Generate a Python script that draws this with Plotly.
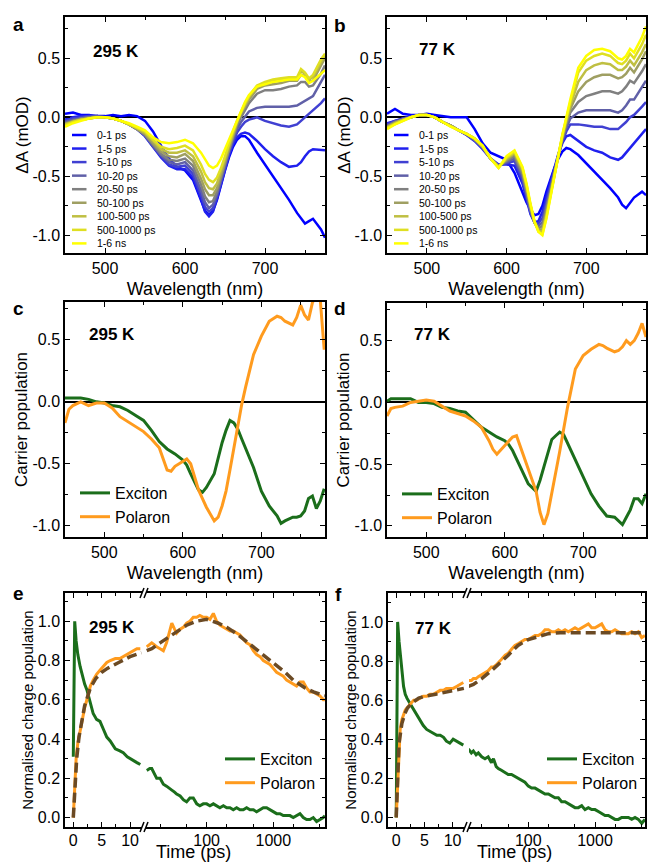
import math
import plotly.graph_objects as go

W, H = 648, 864
FONT = "Liberation Sans, Arial, Helvetica, sans-serif"

# ---------------- panels a & b : transient absorption spectra (mOD) ----------------
wavelength_ab = [450, 460, 470, 480, 490, 500, 510, 520, 530, 540, 550, 560, 570, 580, 590, 600, 610, 620, 625, 630,
                 635, 640, 645, 650, 655, 660, 665, 670, 675, 680, 690, 700, 710, 720, 730, 740, 745, 750, 755, 760,
                 770, 775]
delay_labels = ["0-1 ps", "1-5 ps", "5-10 ps", "10-20 ps", "20-50 ps", "50-100 ps", "100-500 ps", "500-1000 ps", "1-6 ns"]

a_0_1 = [0.03, 0.04, 0.02, 0.02, 0.01, 0.01, 0.02, 0.01, 0.02, 0.01,
         -0.03, -0.12, -0.24, -0.35, -0.42, -0.45, -0.53, -0.70, -0.79, -0.83,
         -0.79, -0.70, -0.57, -0.45, -0.34, -0.25, -0.19, -0.16, -0.16, -0.19,
         -0.30, -0.40, -0.50, -0.59, -0.70, -0.81, -0.86, -0.90, -0.88, -0.86, -0.95, -1.02]
a_1_5 = [-0.02, 0.00, 0.01, 0.01, 0.01, 0.00, -0.01, -0.03, -0.06, -0.10,
         -0.16, -0.25, -0.34, -0.41, -0.44, -0.44, -0.51, -0.69, -0.80, -0.84,
         -0.80, -0.69, -0.56, -0.43, -0.32, -0.23, -0.17, -0.14, -0.13, -0.14,
         -0.20, -0.27, -0.33, -0.38, -0.42, -0.41, -0.38, -0.33, -0.29, -0.27, -0.28, -0.28]
a_5_10 = [-0.03, -0.01, 0.00, 0.01, 0.01, 0.00, -0.01, -0.03, -0.06, -0.10,
          -0.16, -0.25, -0.33, -0.40, -0.42, -0.41, -0.48, -0.66, -0.76, -0.80,
          -0.77, -0.67, -0.55, -0.42, -0.31, -0.21, -0.13, -0.08, -0.04, -0.02,
          0.00, -0.03, -0.05, -0.07, -0.08, -0.06, -0.03, 0.00, 0.03, 0.06, 0.12, 0.16]
a_10_20 = [-0.04, -0.02, -0.01, 0.00, 0.01, 0.00, -0.01, -0.03, -0.06, -0.10,
           -0.15, -0.24, -0.32, -0.38, -0.40, -0.38, -0.45, -0.62, -0.72, -0.77,
           -0.74, -0.65, -0.53, -0.40, -0.29, -0.19, -0.10, -0.04, 0.01, 0.05,
           0.08, 0.09, 0.09, 0.09, 0.09, 0.10, 0.12, 0.14, 0.16, 0.18, 0.30, 0.36]
a_20_50 = [-0.05, -0.03, -0.01, 0.00, 0.00, 0.00, -0.01, -0.03, -0.06, -0.10,
           -0.15, -0.23, -0.31, -0.36, -0.37, -0.35, -0.41, -0.57, -0.67, -0.72,
           -0.71, -0.63, -0.52, -0.39, -0.27, -0.16, -0.07, 0.00, 0.06, 0.12,
           0.20, 0.23, 0.23, 0.24, 0.26, 0.27, 0.30, 0.30, 0.26, 0.27, 0.37, 0.44]
a_50_100 = [-0.06, -0.03, -0.02, -0.01, 0.00, 0.00, -0.01, -0.03, -0.06, -0.10,
            -0.14, -0.22, -0.29, -0.33, -0.34, -0.31, -0.37, -0.52, -0.61, -0.66,
            -0.66, -0.60, -0.49, -0.37, -0.25, -0.14, -0.05, 0.03, 0.09, 0.15,
            0.24, 0.27, 0.28, 0.29, 0.31, 0.31, 0.36, 0.35, 0.30, 0.31, 0.44, 0.50]
a_100_500 = [-0.06, -0.04, -0.02, -0.01, 0.00, 0.00, -0.01, -0.03, -0.06, -0.09,
             -0.13, -0.20, -0.27, -0.30, -0.30, -0.28, -0.33, -0.46, -0.55, -0.60,
             -0.61, -0.56, -0.46, -0.35, -0.24, -0.13, -0.04, 0.04, 0.11, 0.17,
             0.26, 0.29, 0.31, 0.32, 0.33, 0.33, 0.39, 0.37, 0.32, 0.34, 0.47, 0.53]
a_500_1000 = [-0.07, -0.04, -0.02, -0.01, 0.00, 0.00, -0.01, -0.03, -0.06, -0.09,
              -0.12, -0.19, -0.25, -0.27, -0.26, -0.24, -0.28, -0.40, -0.48, -0.53,
              -0.55, -0.51, -0.43, -0.33, -0.22, -0.12, -0.03, 0.05, 0.12, 0.18,
              0.27, 0.30, 0.32, 0.33, 0.34, 0.34, 0.41, 0.38, 0.33, 0.36, 0.49, 0.54]
a_1_6ns = [-0.08, -0.05, -0.03, -0.01, 0.00, 0.00, -0.01, -0.03, -0.05, -0.08,
           -0.11, -0.17, -0.21, -0.22, -0.21, -0.19, -0.22, -0.30, -0.36, -0.41,
           -0.43, -0.41, -0.35, -0.27, -0.19, -0.10, -0.02, 0.06, 0.13, 0.19,
           0.26, 0.28, 0.30, 0.31, 0.32, 0.32, 0.36, 0.34, 0.29, 0.31, 0.37, 0.40]

b_0_1 = [0.03, 0.07, 0.03, 0.02, 0.02, 0.03, 0.02, 0.01, 0.00, 0.00,
         0.00, -0.10, -0.22, -0.30, -0.33, -0.36, -0.47, -0.64, -0.72, -0.78,
         -0.83, -0.82, -0.75, -0.63, -0.53, -0.43, -0.35, -0.29, -0.26, -0.27,
         -0.32, -0.39, -0.46, -0.53, -0.60, -0.68, -0.74, -0.77, -0.72, -0.68, -0.63, -0.66]
b_1_5 = [-0.05, -0.03, -0.01, 0.01, 0.02, 0.02, 0.00, -0.04, -0.07, -0.11,
         -0.15, -0.20, -0.27, -0.35, -0.40, -0.40, -0.41, -0.56, -0.70, -0.82,
         -0.89, -0.88, -0.80, -0.68, -0.55, -0.42, -0.31, -0.22, -0.16, -0.15,
         -0.20, -0.25, -0.28, -0.30, -0.34, -0.36, -0.34, -0.30, -0.26, -0.22, -0.14, -0.10]
b_5_10 = [-0.06, -0.03, -0.01, 0.00, 0.02, 0.02, 0.00, -0.04, -0.07, -0.11,
          -0.15, -0.20, -0.26, -0.35, -0.41, -0.39, -0.37, -0.53, -0.67, -0.81,
          -0.89, -0.90, -0.85, -0.72, -0.58, -0.44, -0.32, -0.21, -0.12, -0.06,
          -0.06, -0.07, -0.08, -0.08, -0.10, -0.10, -0.07, -0.04, 0.00, 0.02, 0.09, 0.13]
b_10_20 = [-0.07, -0.04, -0.02, 0.00, 0.02, 0.02, 0.00, -0.04, -0.07, -0.11,
           -0.15, -0.19, -0.26, -0.35, -0.41, -0.38, -0.35, -0.50, -0.64, -0.79,
           -0.89, -0.92, -0.89, -0.76, -0.61, -0.46, -0.32, -0.19, -0.09, -0.01,
           0.04, 0.06, 0.06, 0.06, 0.06, 0.04, 0.06, 0.10, 0.15, 0.15, 0.25, 0.31]
b_20_50 = [-0.08, -0.04, -0.02, 0.00, 0.02, 0.02, 0.00, -0.04, -0.07, -0.11,
           -0.14, -0.19, -0.25, -0.35, -0.41, -0.37, -0.33, -0.48, -0.62, -0.78,
           -0.89, -0.94, -0.92, -0.78, -0.63, -0.47, -0.32, -0.18, -0.06, 0.04,
           0.13, 0.18, 0.20, 0.22, 0.22, 0.20, 0.22, 0.26, 0.31, 0.29, 0.39, 0.45]
b_50_100 = [-0.08, -0.05, -0.02, 0.00, 0.02, 0.02, 0.00, -0.04, -0.07, -0.11,
            -0.14, -0.18, -0.25, -0.35, -0.42, -0.36, -0.31, -0.46, -0.60, -0.76,
            -0.89, -0.95, -0.95, -0.81, -0.65, -0.48, -0.32, -0.17, -0.04, 0.07,
            0.22, 0.30, 0.34, 0.36, 0.36, 0.33, 0.34, 0.37, 0.42, 0.38, 0.49, 0.56]
b_100_500 = [-0.09, -0.05, -0.02, 0.00, 0.02, 0.02, 0.00, -0.04, -0.07, -0.11,
             -0.14, -0.18, -0.25, -0.35, -0.42, -0.35, -0.30, -0.44, -0.58, -0.75,
             -0.89, -0.96, -0.97, -0.83, -0.66, -0.49, -0.32, -0.16, -0.02, 0.10,
             0.30, 0.40, 0.44, 0.46, 0.45, 0.40, 0.40, 0.43, 0.48, 0.44, 0.55, 0.62]
b_500_1000 = [-0.09, -0.06, -0.03, 0.00, 0.02, 0.02, 0.00, -0.04, -0.08, -0.11,
              -0.14, -0.18, -0.24, -0.35, -0.43, -0.34, -0.29, -0.43, -0.57, -0.74,
              -0.88, -0.97, -0.99, -0.85, -0.67, -0.49, -0.32, -0.15, -0.01, 0.13,
              0.38, 0.48, 0.52, 0.54, 0.52, 0.46, 0.45, 0.48, 0.54, 0.50, 0.62, 0.70]
b_1_6ns = [-0.10, -0.06, -0.03, 0.00, 0.02, 0.02, 0.00, -0.04, -0.08, -0.11,
           -0.14, -0.18, -0.24, -0.35, -0.43, -0.33, -0.28, -0.42, -0.56, -0.73,
           -0.88, -0.97, -1.00, -0.86, -0.68, -0.50, -0.32, -0.15, 0.00, 0.15,
           0.42, 0.52, 0.57, 0.58, 0.56, 0.50, 0.49, 0.52, 0.58, 0.55, 0.68, 0.77]

# ---------------- panels c & d : carrier population spectra ----------------
wavelength_cd = [450, 455, 460, 470, 480, 490, 500, 510, 520, 530, 540, 550, 560, 570, 580, 585, 590, 600, 605, 610,
                 615, 620, 625, 630, 640, 645, 650, 655, 660, 665, 670, 675, 680, 690, 700, 710, 720, 725, 730, 740,
                 745, 750, 755, 760, 765, 770, 775, 780]
c_exciton = [0.03, 0.03, 0.03, 0.03, 0.02, 0.00, -0.01, -0.03, -0.04, -0.07, -0.11, -0.15,
             -0.23, -0.32, -0.38, -0.40, -0.42,
             -0.47, -0.51, -0.58, -0.65, -0.71, -0.73, -0.69,
             -0.58, -0.45, -0.33, -0.23, -0.15, -0.17, -0.22, -0.30, -0.38,
             -0.53, -0.72, -0.84, -0.92, -0.98, -0.96,
             -0.93, -0.93, -0.92, -0.88, -0.78, -0.76, -0.86, -0.80, -0.70]
c_polaron = [-0.17, -0.06, -0.03, 0.00, -0.03, -0.01, -0.01, -0.05, -0.12, -0.16, -0.20, -0.24,
             -0.30, -0.37, -0.55, -0.56, -0.52,
             -0.48, -0.46, -0.50, -0.60, -0.71, -0.78, -0.85,
             -0.96, -0.93, -0.84, -0.72, -0.55, -0.37, -0.18, -0.02, 0.12,
             0.38, 0.53, 0.65, 0.69, 0.68, 0.65,
             0.62, 0.68, 0.78, 0.70, 0.66, 0.80, 0.86, 0.82, 0.42]
d_exciton = [0.01, 0.03, 0.03, 0.03, 0.03, 0.00, 0.00, -0.01, -0.04, -0.05, -0.07, -0.08,
             -0.14, -0.20, -0.24, -0.26, -0.28,
             -0.31, -0.34, -0.39, -0.46, -0.53, -0.60, -0.66,
             -0.72, -0.63, -0.52, -0.40, -0.30, -0.27, -0.24, -0.26, -0.33,
             -0.47, -0.61, -0.74, -0.84, -0.88, -0.92,
             -0.93, -0.96, -0.99, -0.93, -0.87, -0.78, -0.78, -0.82, -0.74]
d_polaron = [-0.11, -0.05, -0.04, -0.03, 0.00, 0.01, 0.02, 0.01, -0.03, -0.07, -0.09, -0.11,
             -0.15, -0.20, -0.31, -0.38, -0.42,
             -0.35, -0.31, -0.28, -0.27, -0.36, -0.46, -0.55,
             -0.72, -0.89, -0.99, -0.90, -0.74, -0.58, -0.40, -0.22, -0.04,
             0.27, 0.38, 0.43, 0.47, 0.46, 0.44,
             0.41, 0.42, 0.45, 0.50, 0.47, 0.50, 0.56, 0.64, 0.53]

# ---------------- panels e & f : normalised kinetics (broken time axis) ----------------
e_t_lin = [0.0, 0.25, 0.5, 0.8, 1.2, 1.5, 2.0, 2.4, 3.0, 3.5, 4.1, 4.7, 5.3, 5.9, 6.5, 7.4, 8.2, 8.8, 9.5, 10.0,
           10.6, 11.2, 11.8]
e_exciton_lin = [0.31, 1.00, 0.90, 0.83, 0.77, 0.73, 0.68, 0.65, 0.58, 0.53, 0.50, 0.49, 0.45, 0.41, 0.39, 0.35,
                 0.34, 0.33, 0.31, 0.30, 0.29, 0.28, 0.27]
e_polaron_lin = [0.00, 0.12, 0.30, 0.38, 0.44, 0.50, 0.56, 0.60, 0.67, 0.70, 0.73, 0.75, 0.77, 0.79, 0.80, 0.81,
                 0.81, 0.82, 0.83, 0.84, 0.85, 0.86, 0.86]
e_fit_t_lin = [0.0, 0.3, 0.6, 1.0, 1.5, 2.0, 3.0, 4.0, 5.0, 6.0, 8.0, 10.0, 12.0]
e_fit_lin = [0.00, 0.15, 0.30, 0.41, 0.50, 0.57, 0.66, 0.71, 0.74, 0.76, 0.79, 0.82, 0.84]

t_log = [12.6, 14, 15, 16.5, 17.8, 20, 22.4, 25, 28, 30, 33, 35.5, 40, 45, 50, 56, 63, 71, 79, 89,
         100, 112, 126, 141, 158, 178, 200, 224, 251, 282, 316, 355, 398, 447, 501, 562, 631, 708, 794, 891,
         1000, 1122, 1259, 1413, 1585, 1778, 1995, 2239, 2512, 2818, 3162, 3548, 3981, 4467, 5012]
e_t_log = t_log + [5623, 5950]
e_exciton_log = [0.24, 0.25, 0.25, 0.22, 0.20, 0.20, 0.17, 0.16, 0.15, 0.14, 0.13, 0.12, 0.11, 0.09, 0.08,
                 0.10, 0.10, 0.07, 0.06, 0.07, 0.07, 0.06, 0.07, 0.06, 0.05, 0.06, 0.05, 0.05, 0.04, 0.05,
                 0.04, 0.04, 0.05, 0.04, 0.04, 0.03, 0.04, 0.05, 0.05, 0.04, 0.03, 0.02, 0.02, 0.01, 0.01,
                 0.01, 0.00, 0.01, 0.02, 0.00, -0.01, -0.01, 0.00, -0.02, -0.01, 0.00, 0.01]
e_polaron_log = [0.87, 0.88, 0.89, 0.88, 0.87, 0.86, 0.85, 0.89, 0.95, 0.99, 0.96, 0.94, 0.96, 0.97, 0.99,
                 1.00, 1.02, 1.02, 1.03, 1.02, 1.02, 1.01, 1.04, 1.00, 0.98, 0.97, 0.96, 0.95, 0.95, 0.94,
                 0.93, 0.91, 0.89, 0.88, 0.85, 0.83, 0.82, 0.80, 0.79, 0.78, 0.76, 0.74, 0.73, 0.72, 0.70,
                 0.69, 0.68, 0.67, 0.69, 0.69, 0.66, 0.64, 0.64, 0.63, 0.62, 0.60, 0.60]
e_fit_t_log = [12.6, 15, 20, 30, 50, 70, 100, 150, 200, 300, 500, 700, 1000, 1500, 2000, 3000, 4000, 5950]
e_fit_log = [0.85, 0.86, 0.89, 0.93, 0.98, 1.00, 1.01, 0.99, 0.97, 0.93, 0.87, 0.83, 0.79, 0.74, 0.70, 0.66,
             0.64, 0.62]

f_t_lin = [0.0, 0.25, 0.5, 0.7, 1.0, 1.3, 1.6, 1.9, 2.5, 3.1, 3.6, 4.2, 4.8, 5.4, 6.0, 6.6, 7.2, 7.8, 8.4, 8.9,
           9.5, 10.1, 10.7, 11.3, 11.9]
f_exciton_lin = [0.00, 1.00, 0.90, 0.84, 0.76, 0.67, 0.63, 0.61, 0.58, 0.55, 0.53, 0.50, 0.47, 0.45, 0.44, 0.43,
                 0.42, 0.42, 0.41, 0.39, 0.38, 0.40, 0.39, 0.38, 0.37]
f_polaron_lin = [0.00, 0.19, 0.39, 0.45, 0.50, 0.53, 0.55, 0.56, 0.58, 0.60, 0.60, 0.61, 0.62, 0.62, 0.63, 0.63,
                 0.64, 0.65, 0.65, 0.66, 0.66, 0.66, 0.67, 0.68, 0.69]
f_fit_t_lin = [0.0, 0.25, 0.5, 1.0, 1.5, 2.0, 3.0, 4.0, 5.0, 7.0, 10.0, 12.0]
f_fit_lin = [0.00, 0.22, 0.38, 0.48, 0.53, 0.56, 0.59, 0.61, 0.62, 0.63, 0.65, 0.66]

f_t_log = t_log + [5600]
f_exciton_log = [0.35, 0.33, 0.34, 0.32, 0.33, 0.31, 0.30, 0.31, 0.28, 0.30, 0.26, 0.25, 0.24, 0.23, 0.22,
                 0.22, 0.21, 0.20, 0.19, 0.18, 0.16, 0.15, 0.15, 0.14, 0.13, 0.12, 0.12, 0.11, 0.10, 0.10,
                 0.08, 0.08, 0.07, 0.06, 0.05, 0.05, 0.06, 0.04, 0.05, 0.04, 0.04, 0.03, 0.02, 0.01, 0.01,
                 0.00, -0.01, -0.01, 0.00, 0.00, 0.00, -0.01, 0.00, -0.01, -0.03, -0.01]
f_polaron_log = [0.70, 0.70, 0.71, 0.71, 0.72, 0.73, 0.74, 0.75, 0.77, 0.77, 0.78, 0.79, 0.81, 0.83, 0.84,
                 0.86, 0.88, 0.89, 0.90, 0.91, 0.91, 0.92, 0.93, 0.93, 0.94, 0.96, 0.96, 0.95, 0.95, 0.96,
                 0.95, 0.96, 0.95, 0.96, 0.97, 0.96, 0.97, 0.98, 0.99, 0.97, 0.97, 0.98, 0.99, 0.96, 0.95,
                 0.95, 0.96, 0.95, 0.94, 0.94, 0.94, 0.95, 0.94, 0.95, 0.92, 0.93]
f_fit_t_log = [12.6, 15, 20, 30, 50, 70, 100, 150, 200, 300, 500, 1000, 2000, 5600]
f_fit_log = [0.67, 0.68, 0.71, 0.76, 0.83, 0.88, 0.91, 0.93, 0.94, 0.945, 0.945, 0.945, 0.945, 0.945]

# tick labels
wl_tickvals = [500, 600, 700]
wl_ticktext = ["500", "600", "700"]
spec_tickvals = [-1.0, -0.5, 0.0, 0.5]
spec_ticktext = ["-1.0", "-0.5", "0.0", "0.5"]
kin_tickvals = [0.0, 0.2, 0.4, 0.6, 0.8, 1.0]
kin_ticktext = ["0.0", "0.2", "0.4", "0.6", "0.8", "1.0"]
lin_tickvals = [0, 5, 10]
lin_ticktext = ["0", "5", "10"]
log_tickvals = [100, 1000]
log_ticktext = ["100", "1000"]

# ---------------- styles ----------------
delay_colors = ["#0000FF", "#2020EE", "#4040D2", "#6060A8", "#808080", "#9F9F62", "#BFBF42", "#DFDF22", "#FFFF00"]
EXC = "#1B6E1B"
POL = "#FF9B1E"
FIT = "#6B4A24"


def dx(l, r):
    return [l / W, r / W]


def dy(t, b):
    return [1 - b / H, 1 - t / H]


def axis(**kw):
    d = dict(showline=True, linecolor="black", linewidth=1.5, mirror="ticks",
             ticks="inside", ticklen=5, tickwidth=1.3, tickcolor="black",
             showgrid=False, zeroline=False, tickmode="array",
             tickfont=dict(family=FONT, size=16, color="black"))
    d.update(kw)
    return d


def minor(vals):
    return dict(tickmode="array", tickvals=vals, ticks="inside", ticklen=3, tickwidth=1, tickcolor="black")


fig = go.Figure()

# panels a, b
for ser, xa, ya in [([a_0_1, a_1_5, a_5_10, a_10_20, a_20_50, a_50_100, a_100_500, a_500_1000, a_1_6ns], "x", "y"),
                    ([b_0_1, b_1_5, b_5_10, b_10_20, b_20_50, b_50_100, b_100_500, b_500_1000, b_1_6ns], "x2", "y2")]:
    for lbl, ys, col in zip(delay_labels, ser, delay_colors):
        fig.add_trace(go.Scatter(x=wavelength_ab, y=ys, mode="lines", name=lbl, showlegend=False,
                                 line=dict(color=col, width=2.5), xaxis=xa, yaxis=ya))

# panels c, d
for exc, pol, xa, ya, lg in [(c_exciton, c_polaron, "x3", "y3", "legend"),
                             (d_exciton, d_polaron, "x4", "y4", "legend2")]:
    fig.add_trace(go.Scatter(x=wavelength_cd, y=exc, mode="lines", name="Exciton", legend=lg,
                             line=dict(color=EXC, width=3), xaxis=xa, yaxis=ya))
    fig.add_trace(go.Scatter(x=wavelength_cd, y=pol, mode="lines", name="Polaron", legend=lg,
                             line=dict(color=POL, width=3), xaxis=xa, yaxis=ya))

# panels e, f
for (tl, el, pl, ftl, fl, tg, eg, pg, ftg, fg, xl, yl, xg, yg, lg) in [
        (e_t_lin, e_exciton_lin, e_polaron_lin, e_fit_t_lin, e_fit_lin,
         e_t_log, e_exciton_log, e_polaron_log, e_fit_t_log, e_fit_log, "x5", "y5", "x6", "y6", "legend3"),
        (f_t_lin, f_exciton_lin, f_polaron_lin, f_fit_t_lin, f_fit_lin,
         f_t_log, f_exciton_log, f_polaron_log, f_fit_t_log, f_fit_log, "x7", "y7", "x8", "y8", "legend4")]:
    fig.add_trace(go.Scatter(x=tl, y=el, mode="lines", name="Exciton", legend=lg, legendgroup=lg + "e",
                             line=dict(color=EXC, width=3), xaxis=xl, yaxis=yl))
    fig.add_trace(go.Scatter(x=tg, y=eg, mode="lines", name="Exciton", legend=lg, legendgroup=lg + "e",
                             showlegend=False, line=dict(color=EXC, width=3), xaxis=xg, yaxis=yg))
    fig.add_trace(go.Scatter(x=tl, y=pl, mode="lines", name="Polaron", legend=lg, legendgroup=lg + "p",
                             line=dict(color=POL, width=3), xaxis=xl, yaxis=yl))
    fig.add_trace(go.Scatter(x=tg, y=pg, mode="lines", name="Polaron", legend=lg, legendgroup=lg + "p",
                             showlegend=False, line=dict(color=POL, width=3), xaxis=xg, yaxis=yg))
    fig.add_trace(go.Scatter(x=ftl, y=fl, mode="lines", name="Fit", showlegend=False,
                             line=dict(color=FIT, width=3.5, dash="10px,5px"), xaxis=xl, yaxis=yl))
    fig.add_trace(go.Scatter(x=ftg, y=fg, mode="lines", name="Fit", showlegend=False,
                             line=dict(color=FIT, width=3.5, dash="10px,5px"), xaxis=xg, yaxis=yg))

wl_title = dict(text="Wavelength (nm)", font=dict(family=FONT, size=18, color="black"), standoff=6)
spec_minor = minor([-0.75, -0.25, 0.25, 0.75])
wl_minor = minor([550, 650, 750])
kin_minor = minor([0.1, 0.3, 0.5, 0.7, 0.9, 1.1])

layout = dict(
    width=W, height=H, margin=dict(l=0, r=0, t=0, b=0),
    paper_bgcolor="white", plot_bgcolor="white",
    font=dict(family=FONT, color="black"),
    # a
    xaxis=axis(domain=dx(65, 325), range=[450, 775], anchor="y", tickvals=wl_tickvals, ticktext=wl_ticktext,
               minor=wl_minor, title=wl_title),
    yaxis=axis(domain=dy(17, 253), range=[-1.15, 0.85], anchor="x", tickvals=spec_tickvals, ticktext=spec_ticktext,
               minor=spec_minor, zeroline=True, zerolinecolor="black", zerolinewidth=2,
               title=dict(text="ΔA (mOD)", font=dict(family=FONT, size=17), standoff=0)),
    # b
    xaxis2=axis(domain=dx(387, 646), range=[450, 775], anchor="y2", tickvals=wl_tickvals, ticktext=wl_ticktext,
                minor=wl_minor, title=wl_title),
    yaxis2=axis(domain=dy(17, 253), range=[-1.15, 0.85], anchor="x2", tickvals=spec_tickvals, ticktext=spec_ticktext,
                minor=spec_minor, zeroline=True, zerolinecolor="black", zerolinewidth=2,
                title=dict(text="ΔA (mOD)", font=dict(family=FONT, size=17), standoff=0)),
    # c
    xaxis3=axis(domain=dx(65, 325), range=[450, 781], anchor="y3", tickvals=wl_tickvals, ticktext=wl_ticktext,
                minor=wl_minor, title=wl_title),
    yaxis3=axis(domain=dy(302, 537), range=[-1.09, 0.805], anchor="x3", tickvals=spec_tickvals,
                ticktext=spec_ticktext, minor=spec_minor, zeroline=True, zerolinecolor="black", zerolinewidth=2,
                title=dict(text="Carrier population", font=dict(family=FONT, size=17), standoff=1)),
    # d
    xaxis4=axis(domain=dx(387, 646), range=[450, 780], anchor="y4", tickvals=wl_tickvals, ticktext=wl_ticktext,
                minor=wl_minor, title=wl_title),
    yaxis4=axis(domain=dy(303, 537), range=[-1.09, 0.805], anchor="x4", tickvals=spec_tickvals,
                ticktext=spec_ticktext, minor=spec_minor, zeroline=True, zerolinecolor="black", zerolinewidth=2,
                title=dict(text="Carrier population", font=dict(family=FONT, size=17), standoff=1)),
    # e
    xaxis5=axis(domain=dx(65, 142), range=[-1.46, 12.1], anchor="y5", tickvals=lin_tickvals, ticktext=lin_ticktext,
                minor=minor([2.5, 7.5]), ticklabelstandoff=-2),
    xaxis6=axis(domain=dx(146, 325), type="log", range=[math.log10(12.3), math.log10(5970)], anchor="y6",
                tickvals=log_tickvals, ticktext=log_ticktext, minor=minor([20, 50, 200, 500, 2000, 5000]),
                ticklabelstandoff=-2),
    yaxis5=axis(domain=dy(593, 827), range=[-0.048, 1.144], anchor="x5", side="left", mirror=False,
                tickvals=kin_tickvals, ticktext=kin_ticktext, minor=kin_minor,
                title=dict(text="Normalised charge population", font=dict(family=FONT, size=15), standoff=1)),
    yaxis6=axis(domain=dy(593, 827), range=[-0.048, 1.144], anchor="x6", side="right", mirror=False,
                tickvals=kin_tickvals, showticklabels=False, minor=kin_minor),
    # f
    xaxis7=axis(domain=dx(388, 465), range=[-1.46, 12.2], anchor="y7", tickvals=lin_tickvals, ticktext=lin_ticktext,
                minor=minor([2.5, 7.5]), ticklabelstandoff=-2),
    xaxis8=axis(domain=dx(469, 645), type="log", range=[math.log10(12.9), math.log10(5614)], anchor="y8",
                tickvals=log_tickvals, ticktext=log_ticktext, minor=minor([20, 50, 200, 500, 2000, 5000]),
                ticklabelstandoff=-2),
    yaxis7=axis(domain=dy(593, 827), range=[-0.049, 1.148], anchor="x7", side="left", mirror=False,
                tickvals=kin_tickvals, ticktext=kin_ticktext, minor=kin_minor,
                title=dict(text="Normalised charge population", font=dict(family=FONT, size=15), standoff=1)),
    yaxis8=axis(domain=dy(593, 827), range=[-0.049, 1.148], anchor="x8", side="right", mirror=False,
                tickvals=kin_tickvals, showticklabels=False, minor=kin_minor),
)

leg_common = dict(xanchor="left", yanchor="top", bgcolor="rgba(0,0,0,0)", itemwidth=30, tracegroupgap=0,
                  font=dict(family=FONT, size=16, color="black"))
layout["legend"] = dict(x=75 / W, y=1 - 476 / H, **leg_common)
layout["legend2"] = dict(x=397 / W, y=1 - 477 / H, **leg_common)
layout["legend3"] = dict(x=220 / W, y=1 - 742 / H, **leg_common)
layout["legend4"] = dict(x=542 / W, y=1 - 742 / H, **leg_common)

annotations = []
shapes = []


def txt(s, x, y, size, bold=False, xanchor="center", yanchor="middle"):
    annotations.append(dict(text=f"<b>{s}</b>" if bold else s, x=x / W, y=1 - y / H, xref="paper", yref="paper",
                            showarrow=False, xanchor=xanchor, yanchor=yanchor,
                            font=dict(family=FONT, size=size, color="black")))


for letter, x, y in [("a", 18, 24), ("b", 340, 25), ("c", 18, 309), ("d", 340, 309), ("e", 18, 593), ("f", 338, 594)]:
    txt(letter, x, y, 19, bold=True)
for lab, x, y in [("295 K", 116, 51), ("77 K", 437, 50), ("295 K", 112, 335), ("77 K", 432, 335),
                  ("295 K", 112, 627), ("77 K", 433, 628)]:
    txt(lab, x, y, 17, bold=True)
txt("Time (ps)", 193, 864, 18, yanchor="bottom")
txt("Time (ps)", 514, 864, 18, yanchor="bottom")

# manual legends for panels a and b (compact spacing)
for left in (65, 387):
    for i, (lbl, col) in enumerate(zip(delay_labels, delay_colors)):
        yy = 135 + 13.55 * i
        shapes.append(dict(type="line", xref="paper", yref="paper", x0=(left + 7) / W, x1=(left + 21.5) / W,
                           y0=1 - yy / H, y1=1 - yy / H, line=dict(color=col, width=2.5)))
        txt(lbl, left + 30, yy, 10.5, xanchor="left")

# axis break marks
for xb in (144, 467):
    for yb in (593, 827):
        for off in (-4, 0):
            shapes.append(dict(type="line", xref="paper", yref="paper",
                               x0=(xb + off) / W, y0=1 - (yb + 5) / H, x1=(xb + off + 4) / W, y1=1 - (yb - 5) / H,
                               line=dict(color="black", width=1.5)))

layout["annotations"] = annotations
layout["shapes"] = shapes
fig.update_layout(**layout)
fig.write_html("out.html", config={"displayModeBar": False},
               post_script="document.body.style.margin='0px';")
